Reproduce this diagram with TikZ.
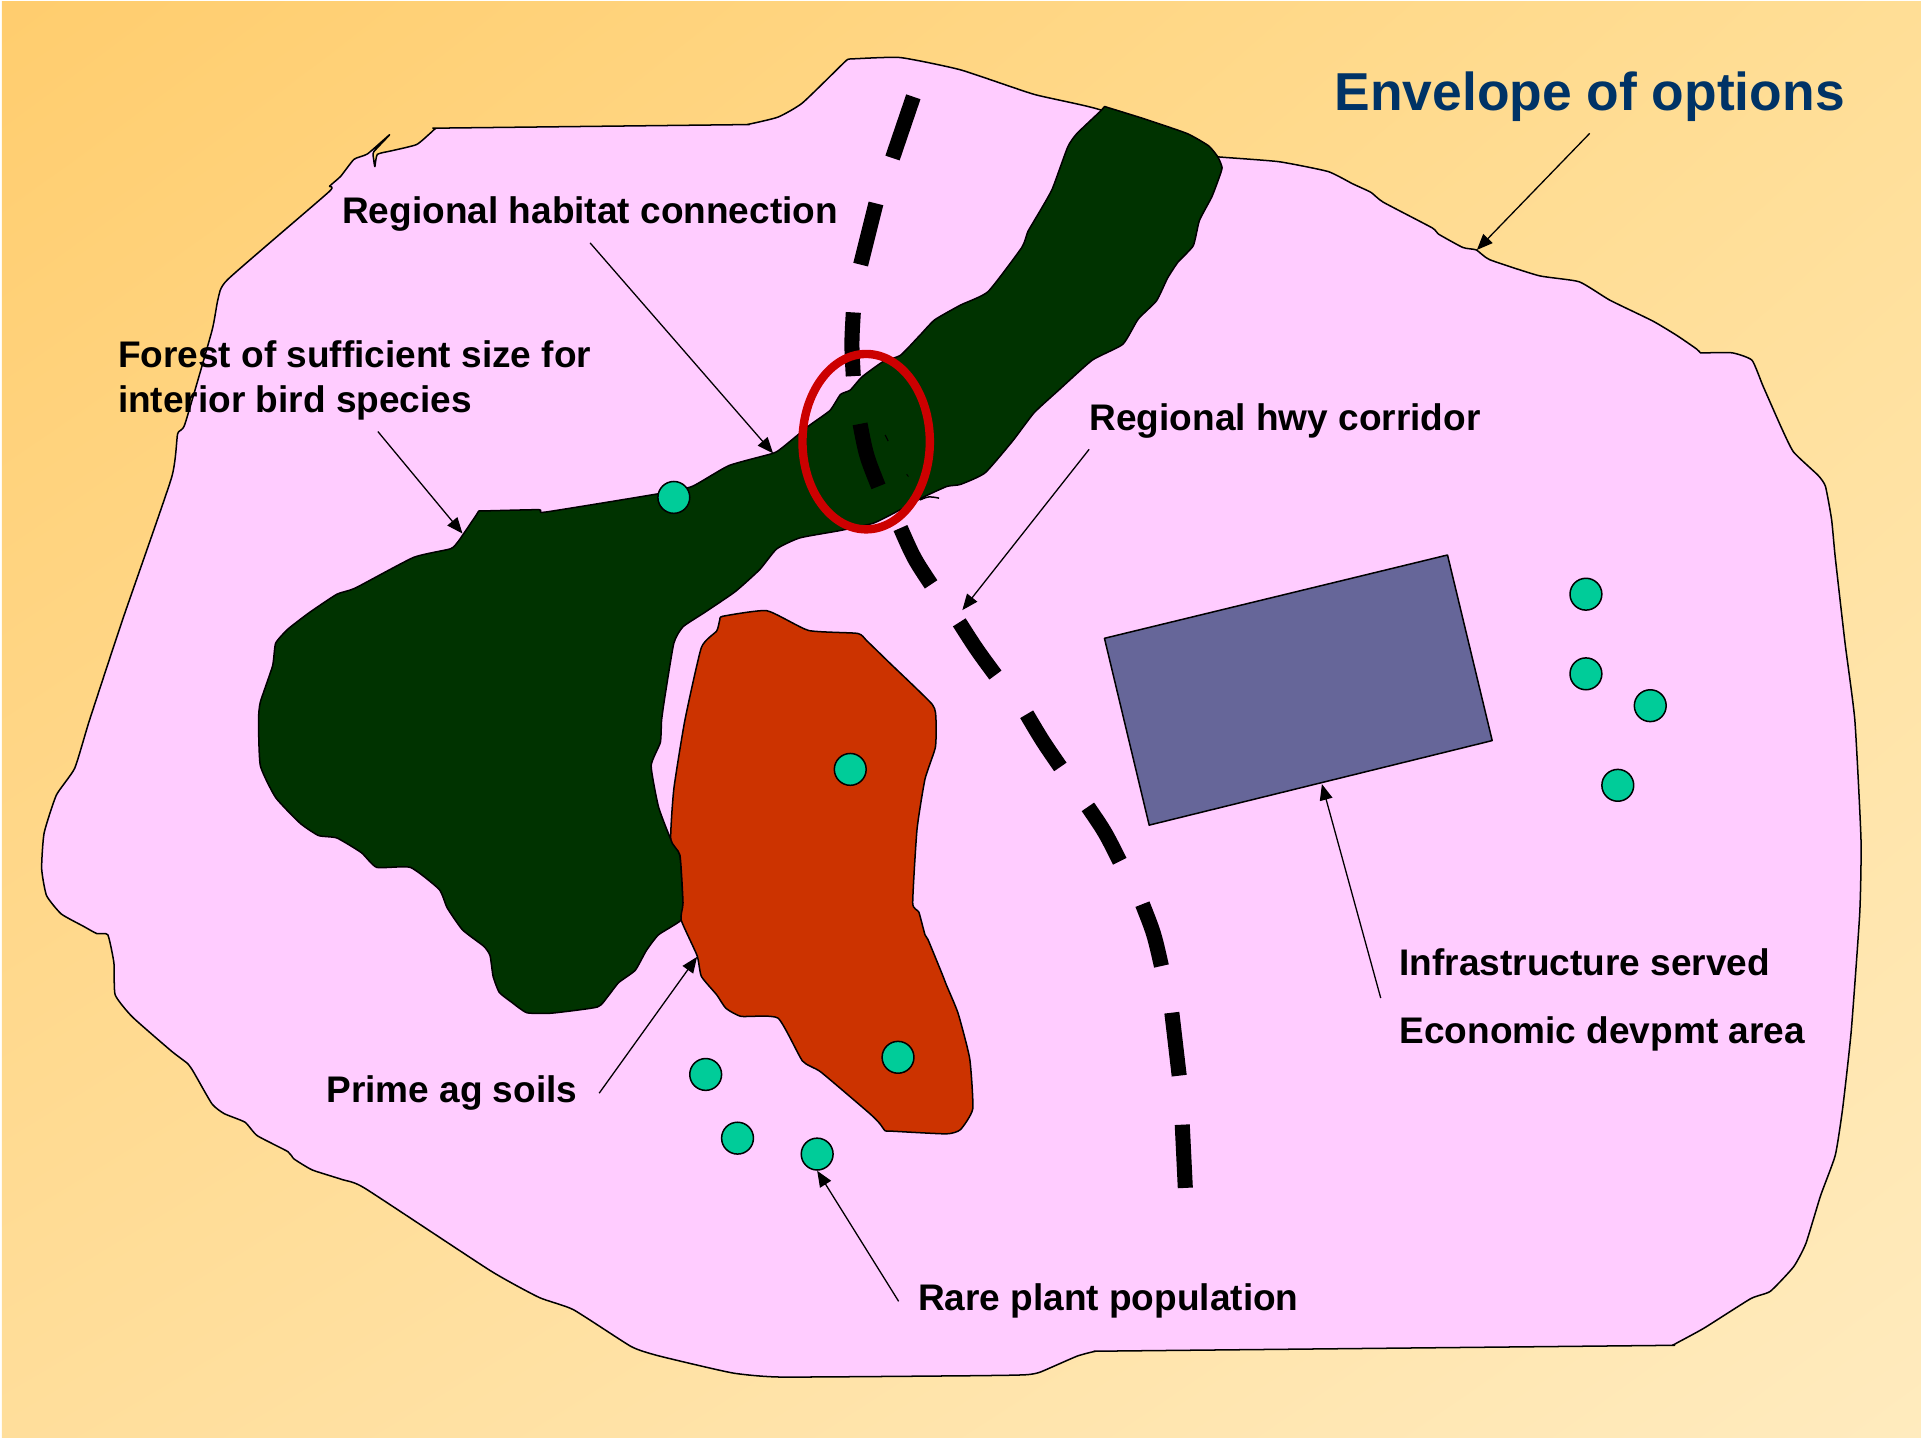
\documentclass[tikz,border=0pt]{standalone}
\usepackage{fontspec}
\setmainfont{Liberation Sans}
\usepackage{tikz}
\usetikzlibrary{arrows.meta,calc,shadings}
\definecolor{bgtl}{RGB}{255,205,110}
\definecolor{bgtr}{RGB}{255,222,150}
\definecolor{bgbl}{RGB}{255,222,155}
\definecolor{bgbr}{RGB}{255,235,190}
\definecolor{envpink}{RGB}{255,204,255}
\definecolor{forestgreen}{RGB}{0,51,0}
\definecolor{soilred}{RGB}{204,51,0}
\definecolor{areablue}{RGB}{102,102,153}
\definecolor{plantgreen}{RGB}{0,204,153}
\definecolor{titleblue}{RGB}{0,51,102}
\definecolor{ringred}{RGB}{204,0,0}

\begin{document}
\begin{tikzpicture}[x=0.02cm,y=-0.02cm,
  region/.style={draw=black,line width=0.7pt,line join=round},
  plantdot/.style={circle,draw=black,line width=0.7pt,fill=plantgreen,minimum size=0.52cm,inner sep=0pt},
  hwydash/.style={line width=7pt,black},
  callout/.style={line width=0.6pt,-{Triangle[length=2.6mm,width=2.1mm]}},
  lbl/.style={font=\bfseries\fontsize{17.2}{20.7}\selectfont,inner sep=0pt,anchor=base west}]
\useasboundingbox (0,0) rectangle (1568,1173);
% background
\shade[upper left=bgtl,upper right=bgtr,lower left=bgbl,lower right=bgbr] (1.5,1) rectangle (1568,1173);
% envelope of options
\draw[region,fill=envpink] plot[smooth cycle,tension=0.3] coordinates {
  (688,52)(692,48.5)(697,48)(735,47)(784,57)(844,77)(899,90)(950,118)(990,127)(994,128)(1000,128.5)(1044,132)(1084,140)(1104,150)(1119,157)(1129,165)
  (1169,186)(1174,191)(1194,202)(1205,204)(1216,212)(1256,225)(1289,230)(1314,245)(1349,262)(1369,274)
  (1385,285)(1388,288)(1392,288)(1414,288)(1430,294)(1439,315)(1454,349)(1464,369)(1484,388)(1490,397)(1495,424)(1498,455)
  (1506,525)(1514,588)(1519,685)(1518,745)(1511,842)(1504,905)(1498,943)(1486,976)(1474,1015)(1464,1034)
  (1445,1054)(1429,1060)(1391,1084)(1369,1096)(1365,1098)(1355,1098.2)(1130,1100.5)(905,1102.8)(894,1103)(879,1107)(849,1120)(839,1122)(825,1122.5)(784,1123)
  (638,1124)(600,1121)(568,1114)(535,1106)(515,1099)(468,1069)(440,1059)(400,1037)(298,970)(280,963)
  (255,955)(240,946)(235,940)(210,927)(200,916)(183,909)(173,901)(158,875)(153,868)(140,858)(108,830)
  (94,812)(93,786)(88,763)(79,762)(68,756)(50,746)(38,731)(34,709)(36,680)(46,649)(61,627)(73,588)
  (100,506)(140,390)(145,354)(151,346)(173,270)(178,244)(186,228)(268,157)(269,152)(278,144)(289,130)
  (300,125.6)(318,110)(305,124)(305,130)(306,136)(308,126)(320,123)(340,118)(352,108)(356,104.6)(365,104.5)(600,101.8)(610,101.6)
  (635,95.6)(655,84)};
% forest and habitat connection
\draw[region,fill=forestgreen] plot[smooth cycle,tension=0.3] coordinates {
  (901.5,87)(905,88)(934,97)(969,109)(986.5,119)(994,128)(997.5,137)(994,148)(989,161)(979,180)(974,200.5)(961.5,214)
  (953,227)(944,245.5)(929,260.5)(916.5,281)(891.5,294)(864,318.6)(844,337)(826.5,360)(804,386)(784,395.4)
  (773,397)(754,405.6)(735,416)(713,427)(686,433)(653,439)(634,448)(620,465)(600,483)(575,500)(557.5,511.6)
  (550,525)(542.5,570)(540,588)(539,606)(531.5,625)(537.5,658.6)(547.5,685)(555,698)(557.5,737)(556,751)
  (537.5,763)(527.5,776)(518.5,792)(505,802)(496,813.5)(487.5,822)(450,827)(430,826.6)(417.5,818)(407.5,810)
  (402.5,797)(400,780)(395,772.5)(377.5,759)(365,741)(358.5,726)(335,708)(307.5,708)(295,696)(275,684)
  (260,682)(245,672)(225,651)(212.5,625)(211,588)(212.5,573)(222.5,543.5)(225,525)(235,513.5)(252.5,500)
  (275,485)(290,480)(337.5,455)(367.5,448)(374,442)(389,420)(391,417)(396,417)(440,416)(445,418)(537.5,403)(565,397)(595,380)
  (631,370)(639,365)(661,347)(677.5,335)(686,322)(694,318.4)(703.6,307.6)(721,295)(735,290)(751,273.5)(763,261)
  (784,249)(806.5,238)(834,202)(839,189)(849,172)(859,154)(871.5,120)(879,109)(899,90)};
\draw[line width=0.7pt] (751,408) .. controls (758,405) .. (766.5,406.6);
\draw[line width=0.5pt] (722.5,355) -- (725,360);
\draw[line width=0.4pt] (740,387) -- (741.5,389);
% prime ag soils
\draw[region,fill=soilred] plot[smooth cycle,tension=0.3] coordinates {
  (587.5,506)(590,503)(626,498.5)(660,514.6)(700,517)(707.5,523)(725,540)(761,575)(764,588)(763.5,610)(755,636)
  (748.5,677)(745,737)(750,744.5)(755,763)(757.5,767)(769,795)(772.5,804)(782,827)(791.5,864)(794,905)(784,922)
  (772.5,925.5)(728,923.3)(722.5,923)(718,917)(710,909)(670,875)(655,866)(635,831)(605,829.6)(592.5,823)(585,812)(572.5,797)
  (569,780)(556,751)(557.5,737)(555,698)(547.5,685)(550,644)(559,588)(572.5,528.5)(585,515)};
% economic development area
\draw[region,fill=areablue] (901.5,521) -- (1181.5,453) -- (1218,604.5) -- (938,673.5) -- cycle;
% highway, one dash at a time
\foreach \xa/\ya/\xm/\ym/\xb/\yb in {745.5/79/737/104/728.5/129,715/166/708/191/702.5/216,696.5/255/695/281/696.5/307,
  702/346/707/372/717/397,735/431/746/456/760/477,783/508/797/530/812.5/551,838/583/851/605/865.5/626,
  888/658.6/902/679/914/703,932.5/738/942/762/948/788.5,956.5/826.6/960/852/962.5/878,965/918/966/944/967.5/969.6}
  \draw[hwydash] (\xa,\ya) .. controls (\xm,\ym) .. (\xb,\yb);
% conflict ring
\draw[ringred,line width=3.9pt] (707,360.5) ellipse [x radius=1.04cm,y radius=1.432cm];
% rare plants
\node[plantdot] (dota) at (550,406) {};
\node[plantdot] (dotb) at (694,628) {};
\node[plantdot] (dotc) at (733,863) {};
\node[plantdot] (dotd) at (576,877) {};
\node[plantdot] (dote) at (602,929) {};
\node[plantdot] (dotf) at (667,942) {};
\node[plantdot] (dotg) at (1294.5,485) {};
\node[plantdot] (doth) at (1294.5,550) {};
\node[plantdot] (doti) at (1347,576) {};
\node[plantdot] (dotj) at (1320.5,641) {};
% labels
\node[lbl,font=\bfseries\fontsize{24.8}{28}\selectfont,titleblue] (titlelbl) at (1089,90.5) {Envelope of options};
\node[lbl] (habitatlbl) at (279,182.5) {Regional habitat connection};
\node[lbl,anchor=north west,align=left] (forestlbl) at (96,278) {Forest of sufficient size for\\interior bird species};
\node[lbl] (hwylbl) at (889,351.5) {Regional hwy corridor};
\node[lbl] (infralbl) at (1142,796) {Infrastructure served};
\node[lbl] (econlbl) at (1142,851.5) {Economic devpmt area};
\node[lbl] (soillbl) at (266,900) {Prime ag soils};
\node[lbl] (plantlbl) at (749,1070) {Rare plant population};
% arrow ends
\coordinate (envtip) at (1205.5,204);
\coordinate (habitattip) at (631,370);
\coordinate (foresttip) at (377.5,435.5);
\coordinate (hwytip) at (785.5,498);
\coordinate (soiltip) at (569,781);
\coordinate (areatip) at (1079,640);
% callouts
\draw[callout] ([yshift=-0.18cm]titlelbl.south) -- (envtip);
\draw[callout] ([yshift=-0.18cm]habitatlbl.south) -- (habitattip);
\draw[callout] ([xshift=0.38cm,yshift=-0.18cm]forestlbl.south) -- (foresttip);
\draw[callout] ([yshift=-0.17cm]hwylbl.south west) -- (hwytip);
\draw[callout] ([xshift=0.35cm]soillbl.east) -- (soiltip);
\draw[callout] ([xshift=-0.31cm]plantlbl.west) -- (dotf.south);
\draw[callout] ([xshift=-0.3cm,yshift=-0.36cm]infralbl.south west) -- (areatip);
\end{tikzpicture}
\end{document}
